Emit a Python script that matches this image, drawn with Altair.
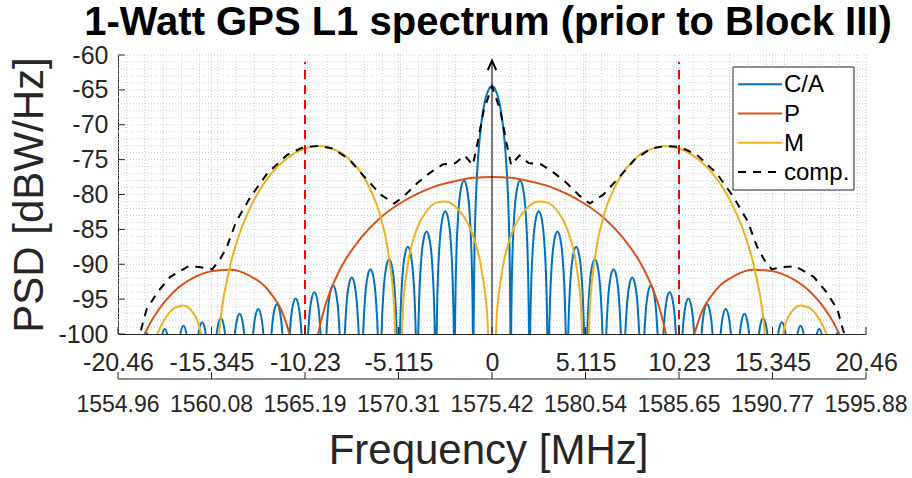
import altair as alt
import pandas as pd

FONT = "Liberation Sans"
AX = "#262626"

TITLE = "1-Watt GPS L1 spectrum (prior to Block III)"
X_TITLE = "Frequency [MHz]"
Y_TITLE = "PSD [dBW/Hz]"

X_TICKS = [-20.46, -15.345, -10.23, -5.115, 0.0, 5.115, 10.23, 15.345, 20.46]
X_TICK_LABELS = ["-20.46", "-15.345", "-10.23", "-5.115", "0", "5.115", "10.23", "15.345", "20.46"]
RF_TICK_LABELS = ["1554.96", "1560.08", "1565.19", "1570.31", "1575.42",
                  "1580.54", "1585.65", "1590.77", "1595.88"]
Y_TICKS = [-100, -95, -90, -85, -80, -75, -70, -65, -60]
Y_TICK_LABELS = ["-100", "-95", "-90", "-85", "-80", "-75", "-70", "-65", "-60"]

# C/A code: main lobe read point by point, side lobes read as peak levels + lobe shape
CA_MAIN_F = [-1.0128, -1.0025, -0.982, -0.9514, -0.9207, -0.8696, -0.8184, -0.7161, -0.6138,
             -0.5115, -0.4092, -0.3069, -0.2046, -0.1023, 0.0, 0.1023, 0.2046, 0.3069, 0.4092,
             0.5115, 0.6138, 0.7161, 0.8184, 0.8696, 0.9207, 0.9514, 0.982, 1.0025, 1.0128]
CA_MAIN_DB = [-104.4, -98.3, -92.1, -87.0, -83.7, -79.9, -77.1, -73.2, -70.4,
              -68.4, -66.9, -65.8, -65.1, -64.6, -64.5, -64.6, -65.1, -65.8, -66.9,
              -68.4, -70.4, -73.2, -77.1, -79.9, -83.7, -87.0, -92.1, -98.3, -104.4]
CA_CHIP_MHZ = 1.023
CA_SIDELOBE_PEAK_DB = [-78.0, -82.4, -85.3, -87.5, -89.3, -90.7, -91.9, -93.0, -94.0, -94.9,
                       -95.7, -96.4, -97.1, -97.7, -98.3, -98.8, -99.3, -99.8, -100.2]
CA_LOBE_U = [0.005, 0.02, 0.05, 0.1, 0.2, 0.35, 0.5, 0.65, 0.8, 0.9, 0.95, 0.98, 0.995]
CA_LOBE_SHAPE_DB = [-36.1, -24.0, -16.1, -10.2, -4.6, -1.0, 0.0, -1.0, -4.6, -10.2, -16.1, -24.0, -36.1]

# P code
P_F = [-19.44, -18.93, -18.41, -17.39, -16.37, -15.35, -14.32, -13.30, -12.28, -11.25, -10.95, -10.64,
       -9.821, -9.514, -9.207, -8.696, -8.184, -7.161, -6.138, -5.115, -4.092, -3.069, -2.046, -1.023,
       0.0,
       1.023, 2.046, 3.069, 4.092, 5.115, 6.138, 7.161, 8.184, 8.696, 9.207, 9.514, 9.821,
       10.64, 10.95, 11.25, 12.28, 13.30, 14.32, 15.35, 16.37, 17.39, 18.41, 18.93, 19.44]
P_DB = [-103.2, -99.65, -97.2, -93.9, -92.0, -91.0, -90.8, -91.6, -93.6, -98.5, -101.3, -105.8,
        -105.1, -100.0, -96.7, -92.9, -90.1, -86.2, -83.4, -81.4, -79.9, -78.8, -78.1, -77.6,
        -77.5,
        -77.6, -78.1, -78.8, -79.9, -81.4, -83.4, -86.2, -90.1, -92.9, -96.7, -100.0, -105.1,
        -105.8, -101.3, -98.5, -93.6, -91.6, -90.8, -91.0, -92.0, -93.9, -97.2, -99.65, -103.2]

# M code
M_F = [-18.926, -18.414, -17.903, -17.391, -16.880, -16.368, -15.857, -15.601,
       -15.089, -14.834, -14.322, -13.811, -13.299, -12.788, -12.276, -11.765, -11.253, -10.742,
       -10.23, -9.719, -9.463, -9.207, -8.696, -8.184, -7.673, -7.161, -6.650, -6.138, -5.627,
       -5.371, -5.217,
       -5.013, -4.859, -4.604, -4.092, -3.581, -3.069, -2.558, -2.046, -1.535, -1.023, -0.5115,
       -0.2558, -0.1023,
       0.1023, 0.2558, 0.5115, 1.023, 1.535, 2.046, 2.558, 3.069, 3.581, 4.092, 4.604, 4.859, 5.013,
       5.217, 5.371, 5.627, 6.138, 6.650, 7.161, 7.673, 8.184, 8.696, 9.207, 9.463, 9.719, 10.23,
       10.742, 11.253, 11.765, 12.276, 12.788, 13.299, 13.811, 14.322, 14.834, 15.089,
       15.601, 15.857, 16.368, 16.880, 17.391, 17.903, 18.414, 18.926]
M_DB = [-105.0, -100.7, -97.9, -96.3, -95.9, -96.9, -100.8, -105.9,
        -104.2, -97.5, -90.2, -85.6, -82.3, -79.7, -77.7, -76.1, -74.9, -74.0,
        -73.4, -73.1, -73.05, -73.1, -73.5, -74.1, -75.3, -76.9, -79.3, -82.8, -89.1,
        -95.3, -103.3,
        -103.5, -95.7, -90.0, -84.8, -82.4, -81.2, -81.0, -81.6, -83.2, -86.0, -91.7,
        -97.6, -105.5,
        -105.5, -97.6, -91.7, -86.0, -83.2, -81.6, -81.0, -81.2, -82.4, -84.8, -90.0, -95.7, -103.5,
        -103.3, -95.3, -89.1, -82.8, -79.3, -76.9, -75.3, -74.1, -73.5, -73.1, -73.05, -73.1, -73.4,
        -74.0, -74.9, -76.1, -77.7, -79.7, -82.3, -85.6, -90.2, -97.5, -104.2,
        -105.9, -100.8, -96.9, -95.9, -96.3, -97.9, -100.7, -105.0]

# composite
COMP_F = [-19.5, -19.2, -18.9, -18.3, -17.6, -16.6, -16.0, -15.3, -14.9, -14.5, -14.0, -13.2, -12.3,
          -11.2, -10.3, -9.5, -8.7, -7.8, -7.0, -6.1, -5.35, -4.8, -4.1, -3.4, -2.7, -2.0, -1.5,
          -1.05, -0.8, -0.45, 0.0, 0.45, 0.8, 1.05, 1.5, 2.0, 2.7, 3.4, 4.1, 4.8, 5.35, 6.1, 7.0,
          7.8, 8.7, 9.5, 10.3, 11.2, 12.3, 13.2, 14.0, 14.5, 14.9, 15.3, 16.0, 16.6, 17.6, 18.3,
          18.9, 19.2, 19.5]
COMP_DB = [-101.5, -99.4, -96.5, -94.0, -91.8, -90.3, -90.4, -90.7, -89.4, -87.5, -83.9, -80.3, -77.0,
           -74.3, -73.2, -73.05, -73.4, -75.0, -77.4, -80.0, -81.3, -80.2, -78.4, -76.9, -75.7, -75.5,
           -74.4, -75.8, -72.7, -67.9, -64.5, -67.9, -72.7, -75.8, -74.4, -75.5, -75.7, -76.9, -78.4,
           -80.2, -81.3, -80.0, -77.4, -75.0, -73.4, -73.05, -73.2, -74.3, -77.0, -80.3, -83.9, -87.5,
           -89.4, -90.7, -90.4, -90.3, -91.8, -94.0, -96.5, -99.4, -101.5]

RED_LINES_F = [-10.23, 10.23]
RED_LINE_TOP_DB = -61.0
ARROW_TOP_DB = -60.8
ARROW_HEAD_DB = -61.5

LEGEND_NAMES = ["C/A", "P", "M", "comp."]
LEGEND_COLORS = ["#0072BD", "#D95319", "#EDB120", "#000000"]

W, H = 748, 279
COMP_DASH = [8, 7]

# ---------- tables ----------
ca_rows = list(zip(CA_MAIN_F, CA_MAIN_DB))
for k, peak in enumerate(CA_SIDELOBE_PEAK_DB, start=1):
    for u, s in zip(CA_LOBE_U, CA_LOBE_SHAPE_DB):
        ca_rows.append(((k + u) * CA_CHIP_MHZ, peak + s))
        ca_rows.append((-(k + u) * CA_CHIP_MHZ, peak + s))
ca_df = pd.DataFrame(ca_rows, columns=["f", "db"]).sort_values("f")
p_df = pd.DataFrame({"f": P_F, "db": P_DB})
m_df = pd.DataFrame({"f": M_F, "db": M_DB})
comp_df = pd.DataFrame({"f": COMP_F, "db": COMP_DB})


def js_lookup(values, labels):
    vals = ",".join(repr(float(v)) for v in values)
    labs = ",".join("'" + s + "'" for s in labels)
    return "[" + labs + "][indexof([" + vals + "], datum.value)]"


x_scale = alt.Scale(domain=[X_TICKS[0], X_TICKS[-1]], nice=False, zero=False)
y_scale = alt.Scale(domain=[Y_TICKS[0], Y_TICKS[-1]], nice=False, zero=False)

x_axis = alt.Axis(values=X_TICKS, labelExpr=js_lookup(X_TICKS, X_TICK_LABELS),
                  labelFontSize=25, labelFont=FONT, labelColor=AX, labelPadding=16,
                  labelFlush=False, labelOverlap=False,
                  ticks=False, tickSize=0, grid=False, domainColor=AX, domainWidth=1,
                  title=X_TITLE, titleFontSize=42, titleFont=FONT, titleFontWeight="normal",
                  titleColor=AX, titleY=129, titleX=370, titleBaseline="alphabetic")
y_axis = alt.Axis(values=Y_TICKS, labelExpr=js_lookup(Y_TICKS, Y_TICK_LABELS),
                  labelFontSize=25, labelFont=FONT, labelColor=AX, labelPadding=10,
                  labelFlush=False, labelOverlap=False,
                  ticks=False, tickSize=0, grid=False, domainColor=AX, domainWidth=1,
                  title=Y_TITLE, titleFontSize=42, titleFont=FONT, titleFontWeight="normal",
                  titleColor=AX, titleX=-76, titleY=H / 2, titleAngle=270,
                  titleBaseline="alphabetic", titleAlign="center")

X = alt.X("f:Q", scale=x_scale, axis=x_axis)
Y = alt.Y("db:Q", scale=y_scale, axis=y_axis)

layers = []

# grid (dotted)
grid_v = sorted(set(list(range(-20, 21)) + X_TICKS))
grid_h = list(range(-99, -59))
layers.append(alt.Chart(pd.DataFrame({"f": grid_v})).mark_rule(
    color="#cccccc", strokeWidth=1, strokeDash=[1, 2]).encode(
    x=X, y=alt.value(0), y2=alt.value(H)))
layers.append(alt.Chart(pd.DataFrame({"db": grid_h})).mark_rule(
    color="#cccccc", strokeWidth=1, strokeDash=[1, 2]).encode(
    y=Y, x=alt.value(0), x2=alt.value(W)))

# curves
for df, col in [(ca_df, LEGEND_COLORS[0]), (p_df, LEGEND_COLORS[1]), (m_df, LEGEND_COLORS[2])]:
    layers.append(alt.Chart(df).mark_line(color=col, strokeWidth=2, clip=True,
                                          interpolate="monotone").encode(x=X, y=Y))
layers.append(alt.Chart(comp_df).mark_line(color="black", strokeWidth=2, clip=True,
                                           strokeDash=COMP_DASH).encode(x=X, y=Y))

# red dashed lines at +-10.23
layers.append(alt.Chart(pd.DataFrame({"f": RED_LINES_F, "db": [Y_TICKS[0]] * 2,
                                      "db2": [RED_LINE_TOP_DB] * 2})).mark_rule(
    color="#FF0000", strokeWidth=2, strokeDash=[9, 6]).encode(x=X, y=Y, y2="db2:Q"))

# centre arrow
layers.append(alt.Chart(pd.DataFrame({"f": [0.0], "db": [Y_TICKS[0]], "db2": [ARROW_TOP_DB]})).mark_rule(
    color="black", strokeWidth=1).encode(x=X, y=Y, y2="db2:Q"))
layers.append(alt.Chart(pd.DataFrame({"f": [0.0], "db": [ARROW_HEAD_DB]})).mark_point(
    shape="M-0.9,1L0,-1L0.9,1", size=90, filled=False, stroke="black", strokeWidth=2,
    opacity=1).encode(x=X, y=Y))

# inward ticks
layers.append(alt.Chart(pd.DataFrame({"f": X_TICKS})).mark_rule(color=AX, strokeWidth=1).encode(
    x=X, y=alt.value(H), y2=alt.value(H - 7)))
layers.append(alt.Chart(pd.DataFrame({"db": Y_TICKS})).mark_rule(color=AX, strokeWidth=1).encode(
    y=Y, x=alt.value(0), x2=alt.value(7)))

# secondary (RF) axis below
layers.append(alt.Chart(pd.DataFrame({"f": [X_TICKS[0]], "f2": [X_TICKS[-1]]})).mark_rule(
    color=AX, strokeWidth=1).encode(x=X, x2="f2:Q", y=alt.value(H + 45)))
layers.append(alt.Chart(pd.DataFrame({"f": X_TICKS})).mark_rule(color=AX, strokeWidth=1).encode(
    x=X, y=alt.value(H + 38), y2=alt.value(H + 45)))
layers.append(alt.Chart(pd.DataFrame({"f": X_TICKS, "lab": RF_TICK_LABELS})).mark_text(
    font=FONT, fontSize=23, color=AX, baseline="alphabetic", align="center").encode(
    x=X, y=alt.value(H + 78), text="lab:N"))

# legend
one = pd.DataFrame({"a": [0]})
LX0, LX1, LY0, LY1 = 615, 736, 12, 135
layers.append(alt.Chart(one).mark_rect(fill="white", stroke=AX, strokeWidth=1).encode(
    x=alt.value(LX0), x2=alt.value(LX1), y=alt.value(LY0), y2=alt.value(LY1)))
for i, (name, col) in enumerate(zip(LEGEND_NAMES, LEGEND_COLORS)):
    ry = LY0 + 17.3 + i * 29.2
    kw = {"strokeDash": COMP_DASH} if name == "comp." else {}
    layers.append(alt.Chart(one).mark_rule(color=col, strokeWidth=2, **kw).encode(
        x=alt.value(LX0 + 5), x2=alt.value(LX0 + 49), y=alt.value(ry)))
    layers.append(alt.Chart(one).mark_text(text=name, font=FONT, fontSize=24, color="black",
                                           align="left", baseline="middle").encode(
        x=alt.value(LX0 + 51), y=alt.value(ry + 1)))

# title (as text, placed above the plot)
layers.append(alt.Chart(one).mark_text(text=TITLE, font=FONT, fontSize=40, fontWeight="bold",
                                       color="black", align="center", baseline="alphabetic").encode(
    x=alt.value(370), y=alt.value(-20)))

chart = alt.layer(*layers).properties(
    width=W, height=H,
    padding={"left": 118, "top": 55, "right": 46, "bottom": 144},
    autosize=alt.AutoSizeParams(type="none"),
).configure_view(stroke=None)

chart.save("out.html", embed_options={"renderer": "svg", "actions": False})
